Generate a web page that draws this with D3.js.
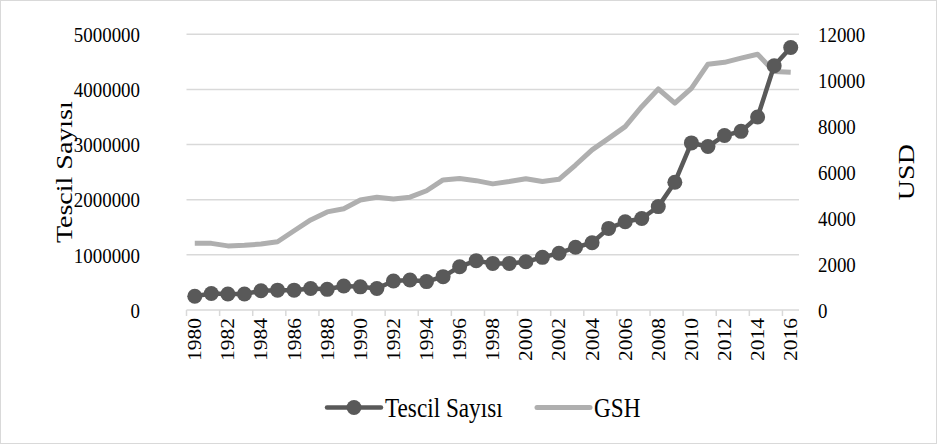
<!DOCTYPE html>
<html>
<head>
<meta charset="utf-8">
<script src="https://cdn.jsdelivr.net/npm/d3@7"></script>
<style>
  body { margin: 0; background: #fff; }
  text { font-family: "Liberation Serif", "Times New Roman", serif; fill: #000; }
</style>
</head>
<body>
<script>
    const years = d3.range(1980, 2017);
    const tescil = [
      250000, 300000, 290000, 290000, 350000, 360000, 360000, 390000, 375000, 435000,
      420000, 390000, 525000, 545000, 515000, 605000, 785000, 895000, 845000, 845000,
      875000, 955000, 1030000, 1137000, 1220000, 1480000, 1600000, 1660000, 1875000, 2318000,
      3030000, 2965000, 3165000, 3240000, 3500000, 4430000, 4760000
    ];
    const gsh = [
      2900, 2900, 2790, 2820, 2870, 2970, 3450, 3920, 4270, 4410,
      4790, 4910, 4830, 4910, 5190, 5660, 5720, 5630, 5490, 5590,
      5710, 5590, 5690, 6310, 6970, 7470, 7980, 8850, 9620, 9000,
      9650, 10700, 10780, 10960, 11130, 10380, 10350
    ];
    const leftTicks = [0, 1000000, 2000000, 3000000, 4000000, 5000000];
    const rightTicks = [0, 2000, 4000, 6000, 8000, 10000, 12000];
    const seriesNames = ['Tescil Sayısı', 'GSH'];

    const W = 939, H = 446;
    const plot = { left: 186.5, right: 799, top: 34.3, bottom: 310 };
    const DARK = '#595959';
    const LIGHT = '#afafaf';
    const GRID = '#d9d9d9';
    const SQ = 0.86; // text in the picture is a bit narrow

    const svg = d3.select('body').append('svg')
      .attr('width', W)
      .attr('height', H);

    // chart border
    svg.append('rect')
      .attr('x', 0.5).attr('y', 0.5)
      .attr('width', W - 3).attr('height', H - 3)
      .attr('fill', '#fff')
      .attr('stroke', GRID);

    const x = d3.scaleBand()
      .domain(years)
      .range([plot.left, plot.right]);

    const yLeft = d3.scaleLinear()
      .domain([0, 5000000])
      .range([plot.bottom, plot.top]);

    const yRight = d3.scaleLinear()
      .domain([0, 12000])
      .range([plot.bottom, plot.top]);

    const cx = d => x(d) + x.bandwidth() / 2;

    // gridlines
    svg.append('g')
      .selectAll('line')
      .data(leftTicks.slice(1))
      .join('line')
      .attr('x1', plot.left).attr('x2', plot.right)
      .attr('y1', d => yLeft(d)).attr('y2', d => yLeft(d))
      .attr('stroke', GRID)
      .attr('stroke-width', 1.5);

    // left axis labels
    svg.append('g')
      .selectAll('text')
      .data(leftTicks)
      .join('text')
      .attr('transform', d => `translate(140, ${yLeft(d)}) scale(${SQ}, 1)`)
      .attr('dy', '0.35em')
      .attr('text-anchor', 'end')
      .style('font-size', '22px')
      .text(d => d);

    // right axis labels
    svg.append('g')
      .selectAll('text')
      .data(rightTicks)
      .join('text')
      .attr('transform', d => `translate(818, ${yRight(d)}) scale(${SQ}, 1)`)
      .attr('dy', '0.35em')
      .attr('text-anchor', 'start')
      .style('font-size', '22px')
      .text(d => d);

    // x axis line + ticks every 2 categories
    const xAxis = svg.append('g');
    xAxis.append('line')
      .attr('x1', plot.left).attr('x2', plot.right)
      .attr('y1', plot.bottom).attr('y2', plot.bottom)
      .attr('stroke', GRID)
      .attr('stroke-width', 1.5);

    const tickYears = years.filter((d, i) => i % 2 === 0);
    xAxis.selectAll('line.tick')
      .data(tickYears)
      .join('line')
      .attr('class', 'tick')
      .attr('x1', d => x(d)).attr('x2', d => x(d))
      .attr('y1', plot.bottom).attr('y2', plot.bottom + 6)
      .attr('stroke', GRID)
      .attr('stroke-width', 1.5);

    xAxis.selectAll('text')
      .data(tickYears)
      .join('text')
      .attr('transform', d => `translate(${cx(d)}, ${plot.bottom + 8}) scale(${SQ}, 1) rotate(-90)`)
      .attr('dy', '0.35em')
      .attr('text-anchor', 'end')
      .style('font-size', '21.5px')
      .text(d => d);

    // axis titles
    svg.append('text')
      .attr('transform', `translate(72, ${(plot.top + plot.bottom) / 2}) scale(${SQ}, 1) rotate(-90)`)
      .attr('text-anchor', 'middle')
      .style('font-size', '28px')
      .text('Tescil Sayısı');

    svg.append('text')
      .attr('transform', `translate(914, ${(plot.top + plot.bottom) / 2}) scale(${SQ}, 1) rotate(-90)`)
      .attr('text-anchor', 'middle')
      .style('font-size', '28px')
      .text('USD');

    // GSH line (right axis)
    const gshLine = d3.line()
      .x((d, i) => cx(years[i]))
      .y(d => yRight(d));

    svg.append('path')
      .datum(gsh)
      .attr('fill', 'none')
      .attr('stroke', LIGHT)
      .attr('stroke-width', 5)
      .attr('stroke-linejoin', 'round')
      .attr('d', gshLine);

    // Tescil line (left axis)
    const tescilLine = d3.line()
      .x((d, i) => cx(years[i]))
      .y(d => yLeft(d));

    svg.append('path')
      .datum(tescil)
      .attr('fill', 'none')
      .attr('stroke', DARK)
      .attr('stroke-width', 4.5)
      .attr('stroke-linejoin', 'round')
      .attr('d', tescilLine);

    svg.append('g')
      .selectAll('circle')
      .data(tescil)
      .join('circle')
      .attr('cx', (d, i) => cx(years[i]))
      .attr('cy', d => yLeft(d))
      .attr('r', 7.5)
      .attr('fill', DARK);

    // legend
    const legend = svg.append('g');
    const legendY = 407.5;
    legend.append('line')
      .attr('x1', 327).attr('x2', 381)
      .attr('y1', legendY).attr('y2', legendY)
      .attr('stroke', DARK)
      .attr('stroke-width', 4.5)
      .attr('stroke-linecap', 'round');
    legend.append('circle')
      .attr('cx', 354).attr('cy', legendY)
      .attr('r', 7.5)
      .attr('fill', DARK);
    legend.append('text')
      .attr('transform', `translate(385, ${legendY}) scale(${SQ}, 1)`)
      .attr('dy', '0.35em')
      .style('font-size', '27px')
      .text(seriesNames[0]);

    legend.append('line')
      .attr('x1', 537).attr('x2', 590)
      .attr('y1', legendY).attr('y2', legendY)
      .attr('stroke', LIGHT)
      .attr('stroke-width', 5)
      .attr('stroke-linecap', 'round');
    legend.append('text')
      .attr('transform', `translate(594, ${legendY}) scale(${SQ}, 1)`)
      .attr('dy', '0.35em')
      .style('font-size', '27px')
      .text(seriesNames[1]);
</script>
</body>
</html>
